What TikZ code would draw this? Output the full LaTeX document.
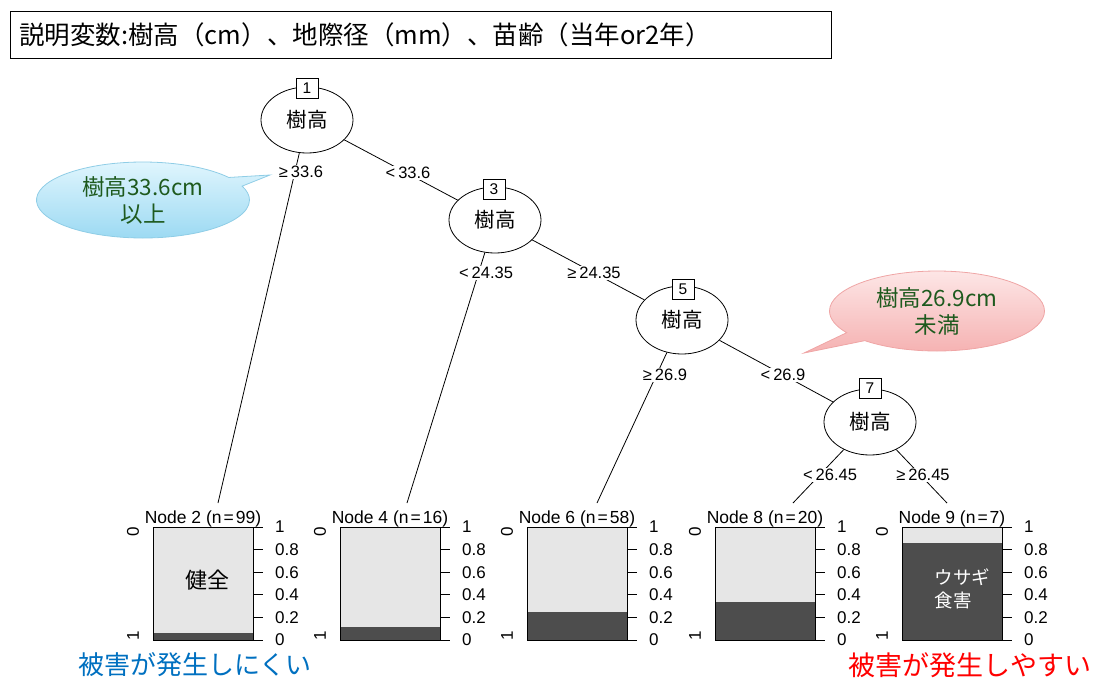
\documentclass[tikz,border=0pt]{standalone}
\usepackage{fontspec}
\setmainfont{Liberation Sans}
\newfontfamily\jp{Noto Sans CJK JP}
\usetikzlibrary{shapes.geometric,shapes.callouts}
\definecolor{lgray}{HTML}{E6E6E6}
\definecolor{dgray}{HTML}{4D4D4D}
\definecolor{cgreen}{RGB}{30,90,30}
\definecolor{jblue}{RGB}{0,112,192}
\definecolor{cbtop}{HTML}{E4F7FE}
\definecolor{cbbot}{HTML}{98D8F2}
\definecolor{cbdraw}{HTML}{8FCDE6}
\definecolor{cptop}{HTML}{FDE6E6}
\definecolor{cpbot}{HTML}{F5B0B0}
\definecolor{cpdraw}{HTML}{EFA5A5}
\tikzset{
  splitnode/.style={draw, ellipse, line width=0.8pt, minimum width=92pt, minimum height=66pt, inner sep=0pt, font=\jp\fontsize{20.5}{20.5}\selectfont},
  idbox/.style={draw, fill=white, line width=0.8pt, minimum width=22pt, minimum height=20pt, inner sep=0pt, font=\fontsize{15.5}{15.5}\selectfont},
  elabel/.style={fill=white, inner sep=1pt, font=\fontsize{16.5}{16.5}\selectfont},
  edgeline/.style={line width=0.8pt},
  panelbox/.style={draw, fill=lgray, line width=0.9pt, minimum width=100pt, minimum height=113pt, inner sep=0pt},
  ptitle/.style={inner sep=0pt, font=\fontsize{17.5}{17.5}\selectfont},
  axlab/.style={inner sep=0pt, anchor=west, font=\fontsize{17}{17}\selectfont},
  sidelab/.style={inner sep=0pt, rotate=90, font=\fontsize{17}{17}\selectfont},
  cjknote/.style={align=center, text=cgreen, font=\jp\fontsize{22.5}{27}\selectfont},
}
\newcommand\termpanel[5]{%
  \node[panelbox, anchor=north west] (t#2) at (#1,527) {};
  \fill[dgray] (#1,640) rectangle ++(100,{-113*#4});
  \draw[line width=0.9pt] (#1,527) rectangle ++(100,113);
  \foreach \v/\t in {0/0,0.2/0.2,0.4/0.4,0.6/0.6,0.8/0.8,1/1}{
    \draw[line width=0.8pt] (#1+100,{640-113*\v}) -- ++(10,0);
    \node[axlab] at (#1+122,{640-113*\v}) {\t};
  }
  \node[sidelab] (s0#2) at (#1-20,532) {0};
  \node[sidelab] (s1#2) at (#1-20,636) {1};
  \node[ptitle] (pt#2) at (#1+50,519) {Node #2 (n\hspace{2pt}=\hspace{2pt}#3)};
  \coordinate (e#2) at (#5,503);
}
\begin{document}
\begin{tikzpicture}[x=1pt,y=-1pt]
\useasboundingbox (0,0) rectangle (1096,681);
% title
\node[draw, line width=0.8pt, anchor=north west, minimum width=821pt, minimum height=47pt,
      inner xsep=9pt, text width=803pt, align=left, font=\jp\fontsize{25.5}{25.5}\selectfont]
  (title) at (10,11) {説明変数:樹高（cm）、地際径（mm）、苗齢（当年or2年）};
% split nodes
\node[splitnode] (n1) at (307,120) {\raisebox{-4pt}{樹高}};
\node[splitnode] (n3) at (495,220) {\raisebox{-4pt}{樹高}};
\node[splitnode, minimum height=68pt] (n5) at (682,320) {\raisebox{-4pt}{樹高}};
\node[splitnode] (n7) at (870,422) {\raisebox{-4pt}{樹高}};
% terminal panels
\termpanel{153}{2}{99}{0.06}{218}
\termpanel{340}{4}{16}{0.115}{407}
\termpanel{527}{6}{58}{0.25}{597}
\termpanel{715}{8}{20}{0.34}{793}
\termpanel{902}{9}{7}{0.857}{947}
% edges
\draw[edgeline] (n1) -- (e2);
\draw[edgeline] (n1) -- (n3);
\draw[edgeline] (n3) -- (e4);
\draw[edgeline] (n3) -- (n5);
\draw[edgeline] (n5) -- (e6);
\draw[edgeline] (n5) -- (n7);
\draw[edgeline] (n7) -- (e8);
\draw[edgeline] (n7) -- (e9);
% id boxes
\node[idbox] (b1) at (307,88) {1};
\node[idbox] (b3) at (494,189) {3};
\node[idbox] (b5) at (683,289) {5};
\node[idbox] (b7) at (870,388) {7};
% edge labels
\node[elabel] (l1a) at (301,172) {≥\hspace{3pt}33.6};
\node[elabel] (l1b) at (408,173) {<\hspace{3pt}33.6};
\node[elabel] (l3a) at (486,273) {<\hspace{3pt}24.35};
\node[elabel] (l3b) at (594,273) {≥\hspace{3pt}24.35};
\node[elabel] (l5a) at (665,375) {≥\hspace{3pt}26.9};
\node[elabel] (l5b) at (783,375) {<\hspace{3pt}26.9};
\node[elabel] (l7a) at (830,475) {<\hspace{3pt}26.45};
\node[elabel] (l7b) at (923,475) {≥\hspace{3pt}26.45};
% panel annotations
\node[font=\jp\fontsize{22}{22}\selectfont] (k1) at (207,580) {健全};
\node[font=\jp\fontsize{18.5}{23}\selectfont, text=white, align=left, anchor=west] (k2) at (931,589) {ウサギ\\食害};
% callouts
\node[ellipse callout, draw=cbdraw, top color=cbtop, bottom color=cbbot, line width=0.8pt,
      minimum width=213pt, minimum height=76pt, inner sep=0pt,
      callout absolute pointer={(270,175)}, cjknote] (cb) at (143,200) {樹高33.6cm\\以上};
\node[ellipse callout, draw=cpdraw, top color=cptop, bottom color=cpbot, line width=0.8pt,
      minimum width=215pt, minimum height=80pt, inner sep=0pt,
      callout absolute pointer={(804,353)}, cjknote] (cp) at (937,311) {樹高26.9cm\\未満};
% bottom texts
\node[text=jblue, font=\jp\fontsize{26}{26}\selectfont] (lo) at (195,665) {被害が発生しにくい};
\node[text=red, font=\jp\fontsize{27}{27}\selectfont] (hi) at (970,665) {被害が発生しやすい};
\end{tikzpicture}
\end{document}
